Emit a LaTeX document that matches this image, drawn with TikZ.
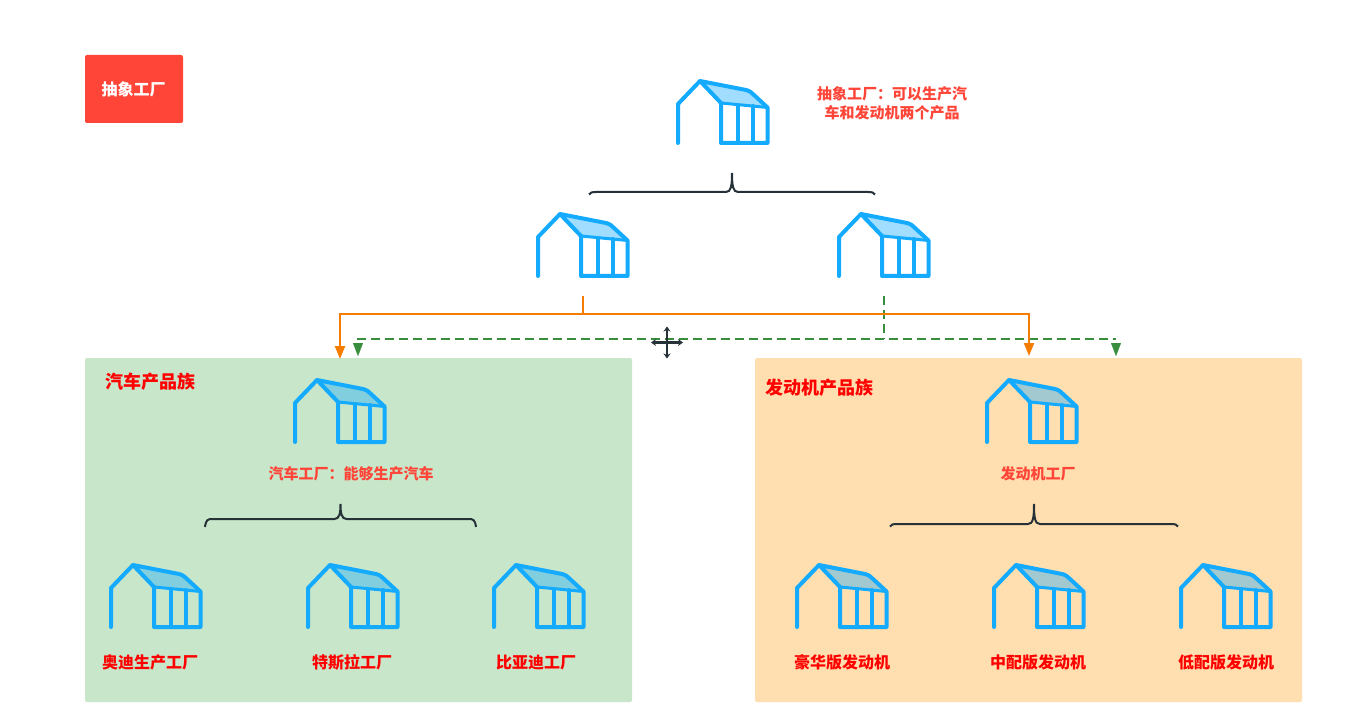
\documentclass[tikz,border=0pt]{standalone}
\usepackage{fontspec}
\setmainfont{Noto Sans CJK SC}
\usetikzlibrary{arrows.meta}
\definecolor{plantBlue}{HTML}{14ABFF}
\definecolor{titleRed}{HTML}{FF4538}
\definecolor{carPanel}{HTML}{C8E6C9}
\definecolor{enginePanel}{HTML}{FFDEAF}
\definecolor{carLine}{HTML}{F57C00}
\definecolor{engineLine}{HTML}{388E3C}
\definecolor{braceInk}{HTML}{263238}
\newcommand{\pBrace}[5]{\draw[braceline] (#1,#5) .. controls (#1+1,#4+.6) and (#1+3,#4) .. (#1+7,#4) -- ({(#1+#2)/2-6},#4) .. controls ({(#1+#2)/2-1},#4) and ({(#1+#2)/2},#4-6) .. ({(#1+#2)/2},#3) .. controls ({(#1+#2)/2},#4-6) and ({(#1+#2)/2+1},#4) .. ({(#1+#2)/2+6},#4) -- (#2-7,#4) .. controls (#2-3,#4) and (#2-1,#4+.6) .. (#2,#5);}
\tikzset{
  plantline/.style={plantBlue, line width=4pt, line cap=round, line join=round},
  braceline/.style={braceInk, line width=2pt},
  panel/.style={rounded corners=2pt, draw=none},
  redlabel/.style={anchor=base, inner sep=0pt, text=red, font=\bfseries\fontsize{16}{20}\selectfont},
  notelabel/.style={anchor=base, inner sep=0pt, text=titleRed, font=\bfseries\fontsize{15}{19}\selectfont},
  carflow/.style={carLine, line width=2pt},
  engineflow/.style={engineLine, line width=2.2pt, dash pattern=on 8.5pt off 5.5pt},
  cartip/.style={carLine, line width=2pt, -{Triangle[length=13pt,width=10pt]}},
  enginetip/.style={engineLine, line width=.1pt, -{Triangle[length=13pt,width=10pt]}},
  cursorline/.style={braceInk, line width=2.6pt, {Stealth[length=5pt,width=7pt]}-{Stealth[length=5pt,width=7pt]}},
  pics/plant/.style={code={
    \coordinate (-stem) at (45,20);
    \fill[plantBlue, fill opacity=.4] (22,-62) -- (68,-53) .. controls (72,-52) and (74,-50) .. (76,-48) -- (89.5,-35.5) -- (43,-40) -- cycle;
    \draw[plantline] (0,0) -- (0,-39) -- (22,-62) -- (68,-53) .. controls (72,-52) and (74,-50) .. (76,-48) -- (89.5,-35.5) -- (89.5,0) -- (43,0) -- (43,-40) -- (22,-62);
    \draw[plantline, line width=3pt] (43,-40) -- (89.5,-35.5);
    \draw[plantline] (60,-38) -- (60,0);
    \draw[plantline] (75,-37) -- (75,0);
  }},
}
\begin{document}
\begin{tikzpicture}[x=1pt,y=-1pt]
\useasboundingbox (0,0) rectangle (1346,727);
\fill[white] (0,0) rectangle (1346,727);
\node[panel, fill=titleRed, minimum width=98pt, minimum height=68pt, inner sep=0pt] (title) at (134,89) {};
\node[anchor=base, inner sep=0pt, text=white, font=\bfseries\fontsize{16}{20}\selectfont] (titletext) at (133.5,96) {抽象工厂};
\node[panel, fill=carPanel, minimum width=547pt, minimum height=344pt, inner sep=0pt] (carfamily) at (358.5,530) {};
\node[panel, fill=enginePanel, minimum width=547pt, minimum height=344pt, inner sep=0pt] (enginefamily) at (1028.5,530) {};
\pic (abstract) at (678,143) {plant};
\pic (carmaker) at (538,276) {plant};
\pic (enginemaker) at (839,276) {plant};
\pic (carfactory) at (295,442) {plant};
\pic (enginefactory) at (987,442) {plant};
\pic (audi) at (111,627) {plant};
\pic (tesla) at (308,627) {plant};
\pic (byd) at (494,627) {plant};
\pic (luxury) at (797,627) {plant};
\pic (middle) at (994,627) {plant};
\pic (low) at (1181,627) {plant};
\pBrace{589}{875}{173}{192}{194.5}
\pBrace{205}{476}{504}{519}{527}
\pBrace{890}{1178}{504}{524}{526.5}
\node[notelabel] (abstractnote1) at (892,99.5) {抽象工厂：可以生产汽};
\node[notelabel] (abstractnote2) at (892,118.5) {车和发动机两个产品};
\node[notelabel] (carnote) at (351,479) {汽车工厂：能够生产汽车};
\node[notelabel] (enginenote) at (1038,479) {发动机工厂};
\node[redlabel, font=\bfseries\fontsize{18}{22}\selectfont] (cartitle) at (150,388) {汽车产品族};
\node[redlabel, font=\bfseries\fontsize{18}{22}\selectfont] (enginetitle) at (819,394) {发动机产品族};
\node[redlabel] (audilabel) at (150,668) {奥迪生产工厂};
\node[redlabel] (teslalabel) at (352,668) {特斯拉工厂};
\node[redlabel] (bydlabel) at (536,668) {比亚迪工厂};
\node[redlabel] (luxurylabel) at (842,668) {豪华版发动机};
\node[redlabel] (middlelabel) at (1038,668) {中配版发动机};
\node[redlabel] (lowlabel) at (1226,668) {低配版发动机};
% connectors
\coordinate (carjoin) at (583,314);
\coordinate (carleft) at (340,359);
\coordinate (carright) at (1029,356);
\coordinate (enginejoin) at (884,339);
\coordinate (engineleft) at (357,339);
\coordinate (engineright) at (1116,339);
\coordinate (engineleftA) at (358,343);
\coordinate (engineleftB) at (358,356);
\coordinate (enginerightA) at (1116,343);
\coordinate (enginerightB) at (1116,356);
\draw[engineflow] (engineleft) -- (engineright);
\draw[engineflow] (enginemaker-stem) -- (enginejoin);
\draw[carflow] (carmaker-stem) -- (carjoin);
\draw[cartip] (carjoin) -| (carleft);
\draw[cartip] (carjoin) -| (carright);
\draw[enginetip] (engineleftA) -- (engineleftB);
\draw[enginetip] (enginerightA) -- (enginerightB);
% move cursor
\coordinate (cursor) at (667,342.5);
\draw[cursorline] ([xshift=-16pt]cursor) -- ([xshift=16pt]cursor);
\draw[cursorline] ([yshift=-16pt]cursor) -- ([yshift=16pt]cursor);
\end{tikzpicture}
\end{document}
